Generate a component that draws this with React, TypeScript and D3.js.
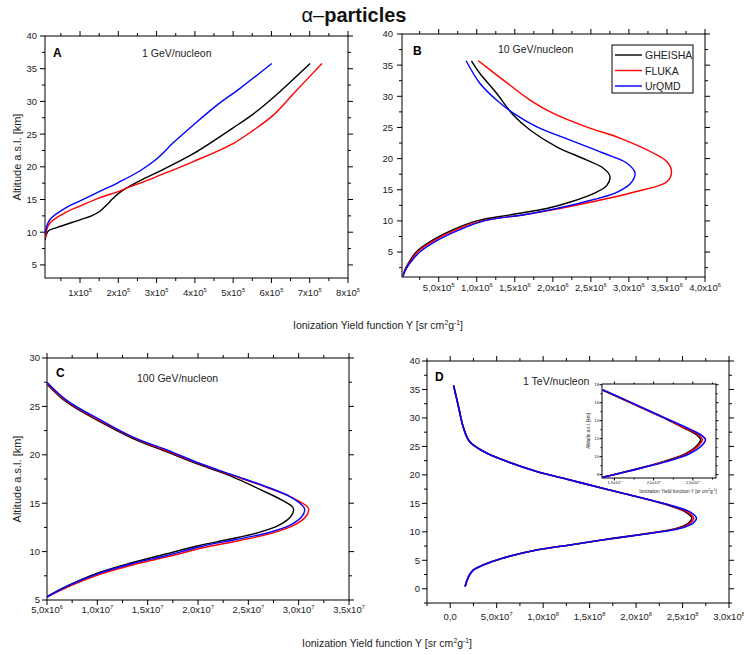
import React from "react";
import * as d3 from "d3";

type Pt = [number, number];

// ---------- DATA (x values in the panel's unit, y = altitude km) ----------
const MODELS = ["GHEISHA", "FLUKA", "UrQMD"];
const MODEL_COLORS = ["#000000", "#ff0000", "#0000ff"];

// Panel A, 1 GeV/nucleon, x in 1e5
const A_GHEISHA: Pt[] = [[0.085, 8.8], [0.17, 10.2], [0.39, 10.7], [1.0, 11.9], [1.3, 12.5], [1.52, 13.2], [1.7, 14.2], [1.85, 15.1], [2.0, 15.9], [2.2, 16.7], [2.57, 17.9], [3.0, 19.1], [3.96, 22.0], [5.01, 26.0], [5.53, 28.1], [6.05, 30.6], [7.01, 35.8]];
const A_FLUKA: Pt[] = [[0.085, 9.1], [0.2, 11.3], [0.65, 13.1], [1.0, 14.0], [1.52, 15.3], [2.0, 16.2], [2.2, 16.7], [2.57, 17.5], [3.0, 18.5], [3.96, 20.8], [5.01, 23.6], [5.53, 25.6], [6.05, 27.9], [6.58, 31.2], [7.32, 35.8]];
const A_URQMD: Pt[] = [[0.085, 9.8], [0.21, 11.9], [0.65, 13.8], [1.0, 14.8], [1.5, 16.2], [2.0, 17.6], [2.57, 19.4], [3.0, 21.2], [3.44, 23.7], [3.96, 26.4], [4.57, 29.4], [5.18, 32.0], [6.01, 35.8]];

// Panel B, 10 GeV/nucleon, x in 1e6
const B_GHEISHA: Pt[] = [[0.93, 35.7], [1.04, 33.7], [1.26, 30.5], [1.48, 27.0], [1.70, 24.6], [2.05, 21.9], [2.44, 19.8], [2.66, 18.5], [2.75, 17.2], [2.71, 15.7], [2.57, 14.6], [2.22, 13.0], [1.92, 12.0], [1.45, 11.0], [1.0, 10.0], [0.69, 8.6], [0.43, 7.0], [0.21, 5.1], [0.10, 3.2], [0.05, 2.0], [0.03, 1.1]];
const B_FLUKA: Pt[] = [[1.02, 35.7], [1.35, 32.6], [1.70, 29.4], [2.0, 27.3], [2.44, 25.1], [2.88, 23.3], [3.32, 20.9], [3.50, 19.5], [3.56, 17.9], [3.50, 16.3], [3.06, 14.6], [2.49, 13.0], [2.09, 12.0], [1.62, 11.0], [1.07, 10.0], [0.73, 8.6], [0.46, 7.0], [0.23, 5.1], [0.11, 3.2], [0.055, 2.0], [0.03, 1.1]];
const B_URQMD: Pt[] = [[0.86, 35.7], [1.04, 32.1], [1.26, 29.4], [1.48, 27.3], [1.79, 25.1], [2.22, 23.0], [2.66, 20.9], [2.97, 19.3], [3.08, 17.7], [3.02, 16.0], [2.84, 14.6], [2.40, 13.0], [2.05, 12.0], [1.62, 11.0], [1.10, 10.0], [0.78, 8.6], [0.50, 7.0], [0.26, 5.1], [0.12, 3.2], [0.06, 2.0], [0.03, 1.1]];

// Panel C, 100 GeV/nucleon, x in 1e7
const C_GHEISHA: Pt[] = [[0.5, 27.3], [0.70, 25.4], [1.03, 23.4], [1.36, 21.65], [1.69, 20.3], [2.02, 18.95], [2.35, 17.7], [2.62, 16.4], [2.82, 15.4], [2.94, 14.6], [2.95, 14.3], [2.92, 13.6], [2.80, 12.7], [2.58, 11.9], [2.30, 11.25], [1.98, 10.55], [1.66, 9.7], [1.34, 8.85], [1.02, 7.85], [0.70, 6.45], [0.5, 5.35]];
const C_FLUKA: Pt[] = [[0.5, 27.4], [0.70, 25.5], [1.03, 23.5], [1.36, 21.75], [1.69, 20.4], [2.02, 19.05], [2.35, 17.85], [2.68, 16.65], [2.93, 15.6], [3.09, 14.6], [3.10, 14.3], [3.07, 13.6], [2.95, 12.7], [2.72, 11.85], [2.39, 11.1], [2.05, 10.4], [1.71, 9.5], [1.38, 8.7], [1.04, 7.7], [0.71, 6.35], [0.5, 5.3]];
const C_URQMD: Pt[] = [[0.5, 27.5], [0.70, 25.6], [1.03, 23.6], [1.36, 21.8], [1.69, 20.5], [2.02, 19.1], [2.35, 17.9], [2.68, 16.7], [2.91, 15.7], [3.05, 14.6], [3.06, 14.3], [3.03, 13.6], [2.91, 12.7], [2.68, 11.9], [2.35, 11.2], [2.02, 10.5], [1.69, 9.6], [1.36, 8.8], [1.03, 7.8], [0.70, 6.4], [0.5, 5.3]];

// Panel D, 1 TeV/nucleon, x in 1e8
const D_GHEISHA: Pt[] = [[0.036, 35.7], [0.09, 31.9], [0.14, 28.4], [0.21, 25.8], [0.36, 24.1], [0.57, 22.6], [0.93, 20.6], [1.29, 19.1], [1.65, 17.6], [2.0, 16.2], [2.34, 14.7], [2.53, 13.5], [2.60, 12.4], [2.56, 11.5], [2.43, 10.6], [2.15, 9.8], [1.65, 8.6], [1.29, 7.7], [0.93, 6.8], [0.57, 5.4], [0.36, 4.2], [0.25, 3.3], [0.20, 2.2], [0.16, 0.4]];
const D_FLUKA: Pt[] = [[0.036, 35.7], [0.09, 31.9], [0.14, 28.4], [0.21, 25.8], [0.36, 24.1], [0.57, 22.6], [0.93, 20.6], [1.29, 19.1], [1.65, 17.6], [2.0, 16.2], [2.35, 14.7], [2.55, 13.5], [2.62, 12.4], [2.58, 11.5], [2.45, 10.6], [2.17, 9.8], [1.65, 8.6], [1.29, 7.7], [0.93, 6.8], [0.57, 5.4], [0.36, 4.2], [0.25, 3.3], [0.20, 2.2], [0.16, 0.4]];
const D_URQMD: Pt[] = [[0.036, 35.7], [0.09, 31.9], [0.14, 28.4], [0.21, 25.8], [0.36, 24.1], [0.57, 22.6], [0.93, 20.6], [1.29, 19.1], [1.65, 17.6], [2.0, 16.2], [2.36, 14.7], [2.58, 13.5], [2.65, 12.4], [2.61, 11.5], [2.47, 10.6], [2.18, 9.8], [1.65, 8.6], [1.29, 7.7], [0.93, 6.8], [0.57, 5.4], [0.36, 4.2], [0.25, 3.3], [0.20, 2.2], [0.16, 0.4]];

// Inset of panel D, x in 1e8
const I_GHEISHA: Pt[] = [[1.35, 17.4], [1.68, 16.1], [2.11, 14.4], [2.36, 13.3], [2.52, 12.6], [2.60, 11.9], [2.56, 11.3], [2.40, 10.3], [2.11, 9.4], [1.68, 8.4], [1.35, 7.7]];
const I_FLUKA: Pt[] = [[1.35, 17.4], [1.68, 16.1], [2.11, 14.4], [2.37, 13.3], [2.54, 12.6], [2.62, 11.9], [2.58, 11.3], [2.42, 10.3], [2.12, 9.4], [1.68, 8.4], [1.35, 7.7]];
const I_URQMD: Pt[] = [[1.35, 17.45], [1.68, 16.15], [2.11, 14.45], [2.39, 13.35], [2.57, 12.6], [2.66, 11.9], [2.62, 11.3], [2.45, 10.3], [2.14, 9.4], [1.69, 8.4], [1.35, 7.7]];

// Tick labels: [value, mantissa, exponent]
const A_XTICKS: [number, string, string][] = [[1, "1", "5"], [2, "2", "5"], [3, "3", "5"], [4, "4", "5"], [5, "5", "5"], [6, "6", "5"], [7, "7", "5"], [8, "8", "5"]];
const B_XTICKS: [number, string, string][] = [[0.5, "5,0", "5"], [1.0, "1,0", "6"], [1.5, "1,5", "6"], [2.0, "2,0", "6"], [2.5, "2,5", "6"], [3.0, "3,0", "6"], [3.5, "3,5", "6"], [4.0, "4,0", "6"]];
const C_XTICKS: [number, string, string][] = [[0.5, "5,0", "6"], [1.0, "1,0", "7"], [1.5, "1,5", "7"], [2.0, "2,0", "7"], [2.5, "2,5", "7"], [3.0, "3,0", "7"], [3.5, "3,5", "7"]];
const D_XTICKS: [number, string, string][] = [[0, "0,0", ""], [0.5, "5,0", "7"], [1.0, "1,0", "8"], [1.5, "1,5", "8"], [2.0, "2,0", "8"], [2.5, "2,5", "8"], [3.0, "3,0", "8"]];
const I_XTICKS: [number, string, string][] = [[1.5, "1,5", "8"], [2.0, "2,0", "8"], [2.5, "2,5", "8"]];

const A_YTICKS = [5, 10, 15, 20, 25, 30, 35, 40];
const B_YTICKS = [5, 10, 15, 20, 25, 30, 35, 40];
const C_YTICKS = [5, 10, 15, 20, 25, 30];
const D_YTICKS = [0, 5, 10, 15, 20, 25, 30, 35, 40];
const I_YTICKS = [8, 10, 12, 14, 16, 18];

const FONT = "Liberation Sans, Arial, sans-serif";

type PanelProps = {
  id: string;
  x0: number; x1: number; y0: number; y1: number;
  xDomain: [number, number]; yDomain: [number, number];
  xTicks: [number, string, string][]; xMinorStep: number;
  yTicks: number[]; yMinorStep: number;
  series: Pt[][];
  fs: number; xLabelGap: number; yLabelGap: number;
  majorLen: number; minorLen: number; lw: number;
  letter?: string; letterPos?: [number, number];
  title?: string; titlePos?: [number, number];
  yTitle?: boolean; yTitleX?: number; yTitleFs?: number;
};

function range(a: number, b: number, step: number) {
  const out: number[] = [];
  const n = Math.round((b - a) / step);
  for (let i = 0; i <= n; i++) out.push(+(a + i * step).toFixed(6));
  return out;
}

function Panel(p: PanelProps) {
  const xs = d3.scaleLinear().domain(p.xDomain).range([p.x0, p.x1]);
  const ys = d3.scaleLinear().domain(p.yDomain).range([p.y1, p.y0]);
  const line = d3.line<Pt>().x(d => xs(d[0])).y(d => ys(d[1])).curve(d3.curveCatmullRom.alpha(0.5));
  const eps = 1e-6;
  const xMajVals = p.xTicks.map(t => t[0]);
  const xStart = Math.ceil((p.xDomain[0] - eps) / p.xMinorStep) * p.xMinorStep;
  const xAll = range(xStart, p.xDomain[1], p.xMinorStep).filter(v => v >= p.xDomain[0] - eps && v <= p.xDomain[1] + eps);
  const yStart = Math.ceil((p.yDomain[0] - eps) / p.yMinorStep) * p.yMinorStep;
  const yAll = range(yStart, p.yDomain[1], p.yMinorStep).filter(v => v >= p.yDomain[0] - eps && v <= p.yDomain[1] + eps);
  const isXMaj = (v: number) => xMajVals.some(m => Math.abs(m - v) < 1e-6);
  const isYMaj = (v: number) => p.yTicks.some(m => Math.abs(m - v) < 1e-6);
  const clipId = "clip-" + p.id;
  return (
    <g>
      <defs>
        <clipPath id={clipId}><rect x={p.x0} y={p.y0} width={p.x1 - p.x0} height={p.y1 - p.y0} /></clipPath>
      </defs>
      <rect x={p.x0} y={p.y0} width={p.x1 - p.x0} height={p.y1 - p.y0} fill="white" stroke="#000" strokeWidth={1} />
      {xAll.map((v, i) => {
        const len = isXMaj(v) ? p.majorLen : p.minorLen;
        const X = xs(v);
        return (
          <g key={"xt" + i} stroke="#000" strokeWidth={1}>
            <line x1={X} x2={X} y1={p.y1} y2={p.y1 + len} />
            <line x1={X} x2={X} y1={p.y0} y2={p.y0 - len} />
          </g>
        );
      })}
      {yAll.map((v, i) => {
        const len = isYMaj(v) ? p.majorLen : p.minorLen;
        const Y = ys(v);
        return (
          <g key={"yt" + i} stroke="#000" strokeWidth={1}>
            <line x1={p.x0} x2={p.x0 - len} y1={Y} y2={Y} />
            <line x1={p.x1} x2={p.x1 + len} y1={Y} y2={Y} />
          </g>
        );
      })}
      {p.xTicks.map((t, i) => (
        <text key={"xl" + i} x={xs(t[0])} y={p.y1 + p.xLabelGap} textAnchor="middle" fontSize={p.fs} fontFamily={FONT} fill="#222">
          {t[1]}
          {t[2] ? <>x10<tspan dy={-p.fs * 0.42} fontSize={p.fs * 0.6}>{t[2]}</tspan></> : null}
        </text>
      ))}
      {p.yTicks.map((v, i) => (
        <text key={"yl" + i} x={p.x0 - p.yLabelGap} y={ys(v) + p.fs * 0.36} textAnchor="end" fontSize={p.fs} fontFamily={FONT} fill="#222">{v}</text>
      ))}
      <g clipPath={`url(#${clipId})`}>
        {p.series.map((s, i) => (
          <path key={"s" + i} d={line(s) || ""} fill="none" stroke={MODEL_COLORS[i]} strokeWidth={p.lw} />
        ))}
      </g>
      {p.letter && p.letterPos ? (
        <text x={p.letterPos[0]} y={p.letterPos[1]} fontSize={12} fontWeight="bold" fontFamily={FONT}>{p.letter}</text>
      ) : null}
      {p.title && p.titlePos ? (
        <text x={p.titlePos[0]} y={p.titlePos[1]} fontSize={10.5} fontFamily={FONT} fill="#222">{p.title}</text>
      ) : null}
      {p.yTitle ? (
        <text transform={`translate(${p.yTitleX},${(p.y0 + p.y1) / 2}) rotate(-90)`} textAnchor="middle" fontSize={p.yTitleFs || 11} fontFamily={FONT} fill="#222">Altitude a.s.l. [km]</text>
      ) : null}
    </g>
  );
}

function XTitle({ x, y, fs }: { x: number; y: number; fs: number }) {
  return (
    <text x={x} y={y} textAnchor="middle" fontSize={fs} fontFamily={FONT} fill="#222">
      Ionization Yield function Y [sr cm<tspan dy={-fs * 0.4} fontSize={fs * 0.65}>2</tspan><tspan dy={fs * 0.4}>g</tspan><tspan dy={-fs * 0.4} fontSize={fs * 0.65}>-1</tspan><tspan dy={fs * 0.4}>]</tspan>
    </text>
  );
}

export default function App() {
  const legendX = 612, legendY = 45;
  return (
    <svg width={744} height={655} style={{ position: "absolute", left: 0, top: 0, background: "white" }} xmlns="http://www.w3.org/2000/svg">
      <rect x={0} y={0} width={744} height={655} fill="white" />
      <text x={354} y={22} textAnchor="middle" fontSize={20} fontFamily={FONT} fill="#111">
        <tspan fontWeight="normal">α–</tspan><tspan fontWeight="bold">particles</tspan>
      </text>

      <Panel id="A" x0={45} x1={348} y0={36} y1={278} xDomain={[0.085, 8]} yDomain={[3, 40]}
        xTicks={A_XTICKS} xMinorStep={0.5} yTicks={A_YTICKS} yMinorStep={2.5}
        series={[A_GHEISHA, A_FLUKA, A_URQMD]} fs={9.5} xLabelGap={18} yLabelGap={8}
        majorLen={5} minorLen={3} lw={1.4}
        letter="A" letterPos={[53, 57]} title="1 GeV/nucleon" titlePos={[142, 57]}
        yTitle yTitleX={21} yTitleFs={11} />

      <Panel id="B" x0={402} x1={705} y0={34} y1={277} xDomain={[0.0175, 4]} yDomain={[1, 40]}
        xTicks={B_XTICKS} xMinorStep={0.25} yTicks={B_YTICKS} yMinorStep={2.5}
        series={[B_GHEISHA, B_FLUKA, B_URQMD]} fs={9.5} xLabelGap={14} yLabelGap={9}
        majorLen={5} minorLen={3} lw={1.4}
        letter="B" letterPos={[413, 55]} title="10 GeV/nucleon" titlePos={[498, 53]} />

      <g>
        <rect x={legendX} y={legendY} width={81} height={48} fill="white" stroke="#000" strokeWidth={1} />
        {MODELS.map((m, i) => (
          <g key={m}>
            <line x1={legendX + 3} x2={legendX + 30} y1={legendY + 10 + i * 15.5} y2={legendY + 10 + i * 15.5} stroke={MODEL_COLORS[i]} strokeWidth={1.4} />
            <text x={legendX + 33} y={legendY + 14 + i * 15.5} fontSize={10.5} fontFamily={FONT} fill="#222">{m}</text>
          </g>
        ))}
      </g>

      <XTitle x={378} y={329} fs={10.5} />

      <Panel id="C" x0={47} x1={349} y0={358} y1={600} xDomain={[0.5, 3.5]} yDomain={[5, 30]}
        xTicks={C_XTICKS} xMinorStep={0.25} yTicks={C_YTICKS} yMinorStep={2.5}
        series={[C_GHEISHA, C_FLUKA, C_URQMD]} fs={9.5} xLabelGap={13} yLabelGap={7}
        majorLen={5} minorLen={3} lw={1.4}
        letter="C" letterPos={[56, 377]} title="100 GeV/nucleon" titlePos={[137, 382]}
        yTitle yTitleX={21} yTitleFs={11} />

      <Panel id="D" x0={427} x1={729} y0={361} y1={603} xDomain={[-0.25, 3]} yDomain={[-2.5, 40]}
        xTicks={D_XTICKS} xMinorStep={0.25} yTicks={D_YTICKS} yMinorStep={2.5}
        series={[D_GHEISHA, D_FLUKA, D_URQMD]} fs={9.5} xLabelGap={17} yLabelGap={7}
        majorLen={5} minorLen={3} lw={1.6}
        letter="D" letterPos={[435, 381]} title="1 TeV/nucleon" titlePos={[523, 385]} />

      <Panel id="I" x0={602} x1={716} y0={384} y1={478} xDomain={[1.342, 2.795]} yDomain={[7.63, 18.08]}
        xTicks={I_XTICKS} xMinorStep={0.25} yTicks={I_YTICKS} yMinorStep={1}
        series={[I_GHEISHA, I_FLUKA, I_URQMD]} fs={4.2} xLabelGap={6} yLabelGap={3}
        majorLen={2.5} minorLen={1.5} lw={1.6}
        yTitle yTitleX={590} yTitleFs={4.5} />
      <XTitle x={678} y={493} fs={4.8} />

      <XTitle x={387} y={647} fs={10.5} />
    </svg>
  );
}
